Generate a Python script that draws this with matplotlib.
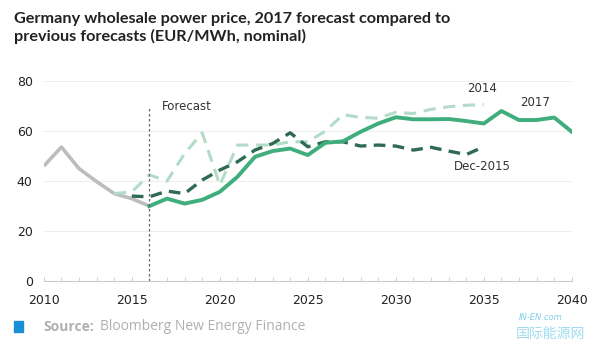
import matplotlib.pyplot as plt
from matplotlib.patches import Rectangle

hist_years = [2010, 2011, 2012, 2013, 2014, 2015, 2016]
hist_vals = [46, 53.6, 45, 39.8, 35, 33, 30]

y2017 = list(range(2016, 2041))
v2017 = [30, 33, 31, 32.5, 35.7, 41.7, 49.7, 52, 53, 50.4, 55.3, 55.9, 59.7, 63,
         65.5, 64.7, 64.7, 64.8, 64, 63, 68, 64.4, 64.4, 65.4, 59.7]

y2014 = list(range(2014, 2036))
v2014 = [35, 35.7, 42.5, 40, 51, 59.3, 38.4, 54.4, 54.4, 54.4, 55.7, 55.7, 60,
         66.5, 65.5, 65.1, 67.5, 67, 68.7, 69.7, 70.3, 70.6]

ydec = list(range(2015, 2036))
vdec = [34, 33.7, 36, 35, 40.4, 44.4, 47.7, 52.4, 55, 59.3, 53.7, 55.7, 55.7,
        54, 54.4, 54, 52.4, 53.5, 52, 50.6, 53.7]

fig = plt.figure(figsize=(6, 3.6), dpi=100)
ax = fig.add_axes([0.073, 0.219, 0.88, 0.556])

ax.plot(hist_years, hist_vals, color='#bdbdbd', lw=2.6, solid_capstyle='butt')
ax.plot(y2014, v2014, color='#b3dcc8', lw=2.2, ls=(0, (4, 2.5)))
ax.plot(ydec, vdec, color='#2e6b52', lw=2.4, ls=(0, (3.5, 2.2)))
ax.plot(y2017, v2017, color='#3fae7c', lw=2.8)

ax.plot([2016, 2016], [0, 70], color='#666666', lw=0.9, ls=(0, (2, 2)))
ax.text(2016.7, 70, 'Forecast', fontsize=8.5, color='#333333', va='center')
ax.text(2034.9, 77, '2014', fontsize=8.5, color='#333333', ha='center', va='center')
ax.text(2037.9, 71.3, '2017', fontsize=8.5, color='#333333', ha='center', va='center')
ax.text(2034.9, 46, 'Dec-2015', fontsize=8.5, color='#333333', ha='center', va='center')

ax.set_xlim(2010, 2040)
ax.set_ylim(0, 80)
ax.set_xticks(range(2010, 2041, 5))
ax.set_xticks(range(2010, 2041), minor=True)
ax.set_yticks(range(0, 81, 20))
ax.grid(axis='y', color='#eeeeee', lw=0.8)
ax.set_axisbelow(True)
for s in ['top', 'right', 'left']:
    ax.spines[s].set_visible(False)
ax.spines['bottom'].set_color('#cccccc')
ax.tick_params(axis='x', which='both', direction='in', colors='#cccccc',
               labelcolor='#222222', labelsize=9, length=3, pad=9)
ax.tick_params(axis='y', length=0, labelcolor='#222222', labelsize=9, pad=8)

fig.text(0.023, 0.967, 'Germany wholesale power price, 2017 forecast compared to\n'
         'previous forecasts (EUR/MWh, nominal)', fontsize=11.7, fontweight='bold',
         family='Lato', color='#222222', va='top', linespacing=1.25)

fig.patches.append(Rectangle((0.023, 0.078), 0.015, 0.031, transform=fig.transFigure,
                             color='#1a8fd6'))
fig.text(0.072, 0.092, 'Source:', fontsize=10, fontweight='bold', color='#b0b0b0',
         va='center', family='Open Sans')
fig.text(0.166, 0.092, 'Bloomberg New Energy Finance', fontsize=10, color='#b0b0b0',
         va='center', family='Open Sans')

fig.text(0.865, 0.11, 'IN-EN.com', fontsize=6, color='#7fd0e8', fontstyle='italic')
fig.text(0.86, 0.06, '国际能源网', fontsize=10, color='#9fdcef',
         family=['Noto Sans CJK SC', 'DejaVu Sans'])

fig.savefig('out.png', dpi=100)
